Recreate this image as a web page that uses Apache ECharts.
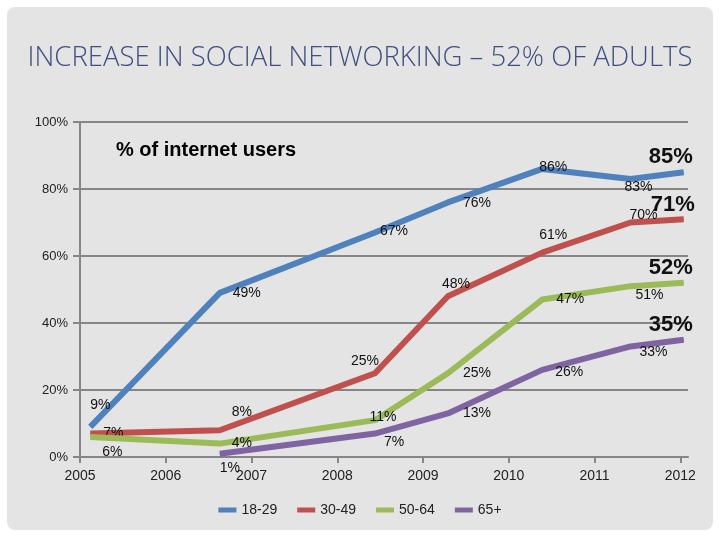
<!DOCTYPE html>
<html>
<head>
<meta charset="utf-8">
<script src="https://cdn.jsdelivr.net/npm/echarts@6/dist/echarts.min.js"></script>
<style>
html,body{margin:0;padding:0;background:#ffffff;}
#chart{width:720px;height:540px;}
</style>
</head>
<body>
<div id="chart"></div>
<script>
// Survey dates as decimal years
var surveyDates = [2005.12, 2006.63, 2008.44, 2009.29, 2010.39, 2011.42, 2012.04];
var yearTicks = [2005, 2006, 2007, 2008, 2009, 2010, 2011, 2012];
var seriesNames = ['18-29', '30-49', '50-64', '65+'];
var age18_29 = [9, 49, 67, 76, 86, 83, 85];
var age30_49 = [7, 8, 25, 48, 61, 70, 71];
var age50_64 = [6, 4, 11, 25, 47, 51, 52];
var age65plus = [null, 1, 7, 13, 26, 33, 35];
var yTicks = [0, 20, 40, 60, 80, 100];

var colors = ['#4f81bd', '#c0504d', '#9bbb59', '#8064a2'];
// label offsets per point (style only)
var offsets = [
  [[10,-22],[27,0],[19,-1],[29,1],[11,-2],[8,8],[-13,-15]],
  [[23,0],[22,-18],[-10,-12],[8,-12],[11,-18],[13,-7],[-11,-14]],
  [[22,15],[22,0],[8,-3],[29,0],[28,0],[19,9],[-13,-15]],
  [[0,0],[10,14],[19,9],[29,0],[27,2],[23,6],[-13,-15]]
];
var allValues = [age18_29, age30_49, age50_64, age65plus];

function pctFormatter(p) { return p.value[1] + '%'; }

function buildSeries(i) {
  var vals = allValues[i];
  var data = [];
  for (var k = 0; k < surveyDates.length; k++) {
    if (vals[k] === null) continue;
    var last = (k === surveyDates.length - 1);
    data.push({
      value: [surveyDates[k], vals[k]],
      label: {
        show: true,
        position: 'inside',
        offset: offsets[i][k],
        formatter: pctFormatter,
        fontFamily: 'Liberation Sans, Arial, sans-serif',
        fontSize: last ? 22 : 14,
        fontWeight: last ? 'bold' : 'normal',
        color: '#111'
      }
    });
  }
  return {
    name: seriesNames[i],
    type: 'line',
    data: data,
    symbol: 'circle',
    showSymbol: true,
    symbolSize: 1,
    lineStyle: { width: 6, color: colors[i], join: 'round' },
    itemStyle: { color: colors[i] },
    label: { show: true, formatter: pctFormatter },
    z: 2 + i,
    animation: false
  };
}

var series = [];
for (var i = 0; i < 4; i++) series.push(buildSeries(i));

var chart = echarts.init(document.getElementById('chart'), null, { renderer: 'canvas' });
chart.setOption({
  backgroundColor: '#ffffff',
  animation: false,
  graphic: [{
    type: 'rect',
    shape: { x: 7, y: 7, width: 706, height: 523, r: 8 },
    style: { fill: '#e4e4e4' },
    z: -10
  }, {
    type: 'text',
    left: 'center',
    top: 44,
    style: {
      text: 'INCREASE IN SOCIAL NETWORKING \u2013 52% OF ADULTS',
      font: '300 27.5px "Open Sans", sans-serif',
      fill: '#3f4f7f'
    }
  }, {
    type: 'text',
    left: 116,
    top: 140,
    style: {
      text: '% of internet users',
      font: 'bold 20px "Liberation Sans", Arial, sans-serif',
      fill: '#000'
    }
  }],
  grid: { left: 80, right: 32, top: 122, bottom: 83, containLabel: false },
  legend: {
    bottom: 18,
    left: 'center',
    itemWidth: 18,
    itemHeight: 5,
    itemGap: 20,
    icon: 'rect',
    data: seriesNames,
    textStyle: { fontFamily: 'Liberation Sans, Arial, sans-serif', fontSize: 14, color: '#222' }
  },
  xAxis: {
    type: 'value',
    min: 2005,
    max: 2012.09,
    interval: 1,
    axisLine: { show: true, onZero: false, lineStyle: { color: '#868686', width: 2 } },
    axisTick: { show: true, customValues: yearTicks, length: 6, lineStyle: { color: '#868686', width: 2 } },
    axisLabel: {
      customValues: yearTicks,
      formatter: function (v) { return String(v); },
      fontFamily: 'Liberation Sans, Arial, sans-serif',
      fontSize: 14,
      color: '#222',
      margin: 12
    },
    splitLine: { show: false }
  },
  yAxis: {
    type: 'value',
    min: 0,
    max: 100,
    interval: 20,
    axisLine: { show: true, lineStyle: { color: '#868686', width: 2 } },
    axisTick: { show: true, length: 7, lineStyle: { color: '#868686', width: 2 } },
    axisLabel: {
      formatter: function (v) { return v + '%'; },
      fontFamily: 'Liberation Sans, Arial, sans-serif',
      fontSize: 13,
      color: '#222',
      margin: 12
    },
    splitLine: { show: true, lineStyle: { color: '#868686', width: 2 } }
  },
  series: series
});
</script>
</body>
</html>
